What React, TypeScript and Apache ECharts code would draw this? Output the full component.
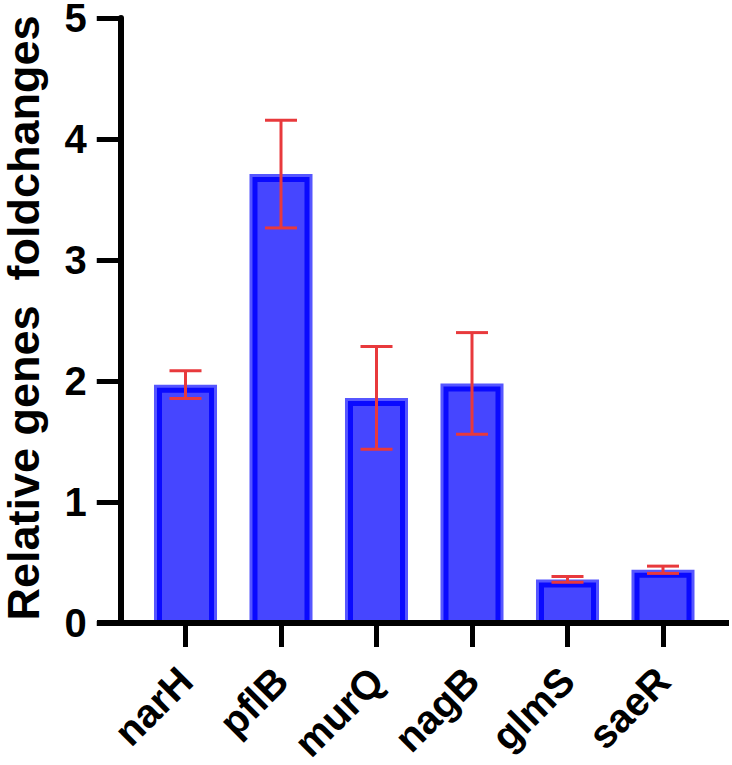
import React, { useEffect, useRef } from "react";
import * as echarts from "echarts";

const categories = ["narH", "pflB", "murQ", "nagB", "glmS", "saeR"];
const means = [1.97, 3.71, 1.86, 1.98, 0.36, 0.44];
const errors = [0.115, 0.445, 0.425, 0.42, 0.024, 0.03];
const yTicks = [0, 1, 2, 3, 4, 5];
const yTitle = "Relative genes\u00a0 foldchanges";

const FONT = 'Arial, "Liberation Sans", Helvetica, sans-serif';

export default function App() {
  const ref = useRef<HTMLDivElement>(null);
  useEffect(() => {
    if (!ref.current) return;
    const chart = echarts.init(ref.current, undefined, { renderer: "svg" });
    const barData = means.map((m, i) => [i, m]);
    const errData = means.map((m, i) => [i, m, m - errors[i], m + errors[i]]);
    chart.setOption({
      animation: false,
      backgroundColor: "#ffffff",
      grid: {
        left: 137.75,
        right: 21.25,
        top: 18,
        bottom: 142,
        containLabel: false,
        outerBoundsMode: "none",
      },
      xAxis: {
        type: "category",
        data: categories,
        axisLine: { show: false },
        axisTick: { show: true, alignWithLabel: true, length: 24, lineStyle: { color: "#000", width: 5 } },
        axisLabel: {
          interval: 0,
          rotate: 45,
          margin: 51,
          fontSize: 40,
          fontWeight: "bold",
          fontFamily: FONT,
          color: "#000",
        },
        splitLine: { show: false },
      },
      yAxis: {
        type: "value",
        min: yTicks[0],
        max: yTicks[yTicks.length - 1],
        interval: 1,
        offset: 17,
        axisLine: { show: true, lineStyle: { color: "#000", width: 6 } },
        axisTick: { show: true, length: 24, lineStyle: { color: "#000", width: 5 } },
        axisLabel: { margin: 34, fontSize: 40, lineHeight: 32, fontWeight: "bold", fontFamily: FONT, color: "#000" },
        splitLine: { show: false },
      },
      graphic: [
        {
          type: "line",
          z: 100,
          shape: { x1: 97, y1: 623, x2: 729, y2: 623 },
          style: { stroke: "#000", lineWidth: 6 },
        },
        {
          type: "text",
          z: 100,
          x: 23,
          y: 318,
          rotation: Math.PI / 2,
          style: {
            text: yTitle,
            fontSize: 45,
            fontWeight: "bold",
            fontFamily: FONT,
            fill: "#000",
            align: "center",
            verticalAlign: "middle",
          },
        },
      ],
      series: [
        {
          type: "custom",
          z: 2,
          data: barData,
          encode: { x: 0, y: 1 },
          renderItem: (params: any, api: any) => {
            const idx = api.value(0);
            const val = api.value(1);
            const top = api.coord([idx, val]);
            const base = api.coord([idx, 0]);
            const bw = api.size([1, 0])[0] * 0.66;
            const x0 = top[0] - bw / 2;
            const y0 = top[1];
            const h = base[1] - top[1];
            return {
              type: "group",
              children: [
                { type: "rect", shape: { x: x0, y: y0, width: bw, height: h }, style: { fill: "#5656ff" } },
                { type: "rect", shape: { x: x0 + 3, y: y0 + 3, width: bw - 6, height: h - 3 }, style: { fill: "#0a0aff" } },
                { type: "rect", shape: { x: x0 + 8, y: y0 + 8, width: bw - 16, height: h - 8 }, style: { fill: "#4646ff" } },
              ],
            };
          },
        },
        {
          type: "custom",
          z: 3,
          data: errData,
          encode: { x: 0, y: [2, 3] },
          renderItem: (params: any, api: any) => {
            const idx = api.value(0);
            const lo = api.coord([idx, api.value(2)]);
            const hi = api.coord([idx, api.value(3)]);
            const cw = 16;
            const st = { stroke: "#e8393c", lineWidth: 3 };
            return {
              type: "group",
              children: [
                { type: "line", shape: { x1: lo[0], y1: lo[1], x2: hi[0], y2: hi[1] }, style: st },
                { type: "line", shape: { x1: hi[0] - cw, y1: hi[1], x2: hi[0] + cw, y2: hi[1] }, style: st },
                { type: "line", shape: { x1: lo[0] - cw, y1: lo[1], x2: lo[0] + cw, y2: lo[1] }, style: st },
              ],
            };
          },
        },
      ],
    });
    return () => chart.dispose();
  }, []);
  return (
    <div
      ref={ref}
      style={{ position: "fixed", left: 0, top: 0, width: 732, height: 765, background: "#fff" }}
    />
  );
}
